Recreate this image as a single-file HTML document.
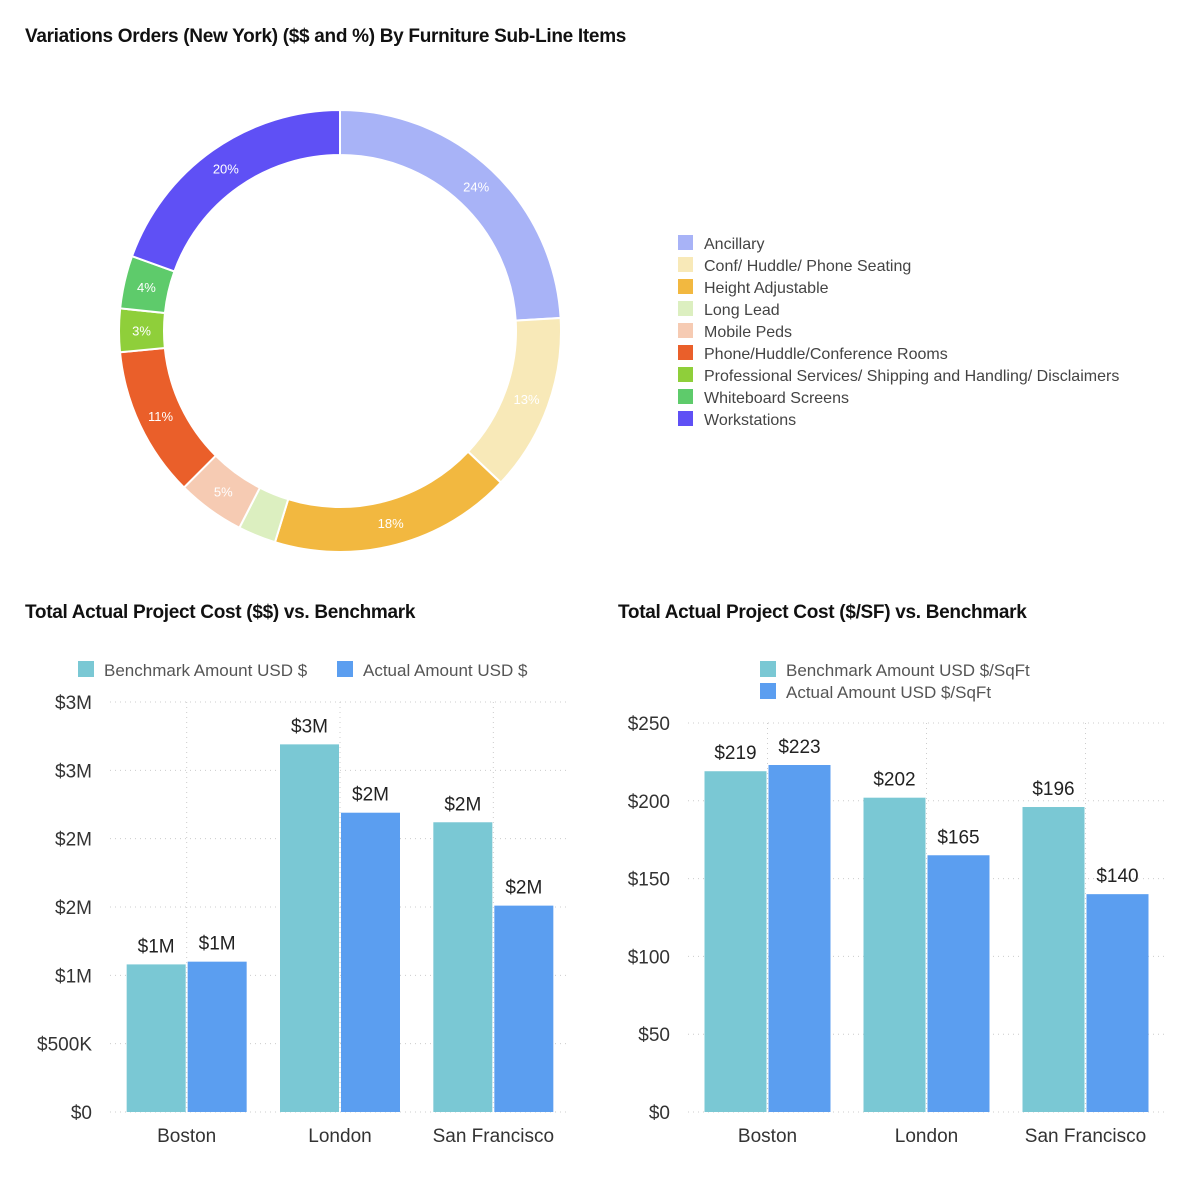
<!DOCTYPE html>
<html><head><meta charset="utf-8"><style>
body{margin:0;background:#fff;font-family:"Liberation Sans",sans-serif;}
#root{position:relative;width:1200px;height:1178px;overflow:hidden;}
.title{position:absolute;font-weight:bold;font-size:19px;color:#111;letter-spacing:-0.3px;}
svg{position:absolute;left:0;top:0;}
</style></head><body>
<div id="root">
<div class="title" style="left:25px;top:26px">Variations Orders (New York) ($$ and %) By Furniture Sub-Line Items</div>
<div class="title" style="left:25px;top:602px">Total Actual Project Cost ($$) vs. Benchmark</div>
<div class="title" style="left:618px;top:602px">Total Actual Project Cost ($/SF) vs. Benchmark</div>
<svg id="chart" width="1200" height="1178"></svg>
</div>
<script>
// Donut data
const sliceLabels=["Ancillary","Conf/ Huddle/ Phone Seating","Height Adjustable","Long Lead","Mobile Peds","Phone/Huddle/Conference Rooms","Professional Services/ Shipping and Handling/ Disclaimers","Whiteboard Screens","Workstations"];
const sliceValues=[24.3,13.1,17.9,2.8,5.0,11.1,3.2,3.9,19.7];
const sliceText=["24%","13%","18%","","5%","11%","3%","4%","20%"];
const sliceColors=["#a8b3f7","#f8e9b8","#f2b840","#dcefc0","#f6cbb3","#ea5f2a","#8fcf3a","#5ecb6b","#5f50f5"];
// Bar chart 1
const cities=["Boston","London","San Francisco"];
const benchUSD=[1080000,2690000,2120000];
const actualUSD=[1100000,2190000,1510000];
const benchUSDText=["$1M","$3M","$2M"];
const actualUSDText=["$1M","$2M","$2M"];
const ticks1=[0,500000,1000000,1500000,2000000,2500000,3000000];
const tickLabels1=["$0","$500K","$1M","$2M","$2M","$3M","$3M"];
// Bar chart 2
const benchSF=[219,202,196];
const actualSF=[223,165,140];
const ticks2=[0,50,100,150,200,250];
const tickLabels2=["$0","$50","$100","$150","$200","$250"];

const NS="http://www.w3.org/2000/svg";
const svg=document.getElementById("chart");
function mk(tag,attrs,parent){const e=document.createElementNS(NS,tag);for(const k in attrs)e.setAttribute(k,attrs[k]);(parent||svg).appendChild(e);return e;}
function txt(s,attrs,parent){const e=mk("text",attrs,parent);e.textContent=s;return e;}

// Donut
const cx=340,cy=331,ro=221,ri=176;
const total=sliceValues.reduce((a,b)=>a+b,0);
let ang=0;
const dg=mk("g",{});


function pt(r,a){return [cx+r*Math.sin(a),cy-r*Math.cos(a)];}
sliceValues.forEach((v,i)=>{
  const a0=ang,a1=ang+v/total*2*Math.PI;ang=a1;
  const large=(a1-a0)>Math.PI?1:0;
  const p0=pt(ro,a0),p1=pt(ro,a1),q1=pt(ri,a1),q0=pt(ri,a0);
  const d=`M${p0} A${ro},${ro} 0 ${large} 1 ${p1} L${q1} A${ri},${ri} 0 ${large} 0 ${q0} Z`;
  const p=mk("path",{d:d,fill:sliceColors[i],stroke:"#fff","stroke-width":2},dg);
  
  
  if(sliceText[i]){const m=pt((ro+ri)/2,(a0+a1)/2);
    const t=txt(sliceText[i],{x:m[0],y:m[1]+5,"text-anchor":"middle","font-size":13,fill:"#fff"},dg);
    
    }
});
// Legend
sliceLabels.forEach((l,i)=>{
  const y=244+i*22;
  const r=mk("rect",{x:678,y:y-9,width:15,height:15,fill:sliceColors[i]});
  
  
  const t=txt(l,{x:704,y:y+5,"font-size":16,fill:"#444"});
  
  
});

function barChart(o){
  const g=mk("g",{});
  
  
  const ys=v=>o.y0-(v-o.ticks[0])/(o.ticks[o.ticks.length-1]-o.ticks[0])*(o.y0-o.y1);
  const band=(o.x1-o.x0)/cities.length;
  o.ticks.forEach((t,i)=>{
    const y=ys(t);
    mk("line",{x1:o.x0,x2:o.x1,y1:y,y2:y,stroke:"#ccc","stroke-dasharray":"1,4"},g);
    const l=txt(o.tickLabels[i],{x:o.x0-18,y:y+7,"text-anchor":"end","font-size":19,fill:"#333"},g);
    
    
  });
  cities.forEach((c,i)=>{
    const xc=o.x0+band*(i+0.5);
    mk("line",{x1:xc,x2:xc,y1:o.y1,y2:o.y0,stroke:"#ccc","stroke-dasharray":"1,4"},g);
    const l=txt(c,{x:xc,y:o.y0+30,"text-anchor":"middle","font-size":19,fill:"#333"},g);
    
    
    [[o.bench,o.benchText,"#7ac8d4",-1],[o.actual,o.actualText,"#5b9ef0",1]].forEach(([arr,tx,col,s])=>{
      const v=arr[i],y=ys(v);
      const x=s<0?xc-1-o.bw:xc+1;
      const r=mk("rect",{x:x,y:y,width:o.bw,height:o.y0-y,fill:col},g);
      
      
      const t=txt(tx[i],{x:x+o.bw/2,y:y-12,"text-anchor":"middle","font-size":19,fill:"#222"},g);
      
      
    });
  });
}
barChart({name:"cost-bar-chart",x0:110,x1:570,y0:1112,y1:702,bw:59,ticks:ticks1,tickLabels:tickLabels1,bench:benchUSD,actual:actualUSD,benchText:benchUSDText,actualText:actualUSDText});
barChart({name:"cost-sf-bar-chart",x0:688,x1:1165,y0:1112,y1:723,bw:62,ticks:ticks2,tickLabels:tickLabels2,bench:benchSF,actual:actualSF,benchText:benchSF.map(v=>"$"+v),actualText:actualSF.map(v=>"$"+v)});

// Bar legends
[[78,663,"#7ac8d4","Benchmark Amount USD $"],[337,663,"#5b9ef0","Actual Amount USD $"],[760,663,"#7ac8d4","Benchmark Amount USD $/SqFt"],[760,685,"#5b9ef0","Actual Amount USD $/SqFt"]].forEach(([x,y,c,l])=>{
  const r=mk("rect",{x:x,y:y-2,width:16,height:16,fill:c});
  
  
  const t=txt(l,{x:x+26,y:y+13,"font-size":17,fill:"#555"});
  
  
});
</script>
</body></html>
